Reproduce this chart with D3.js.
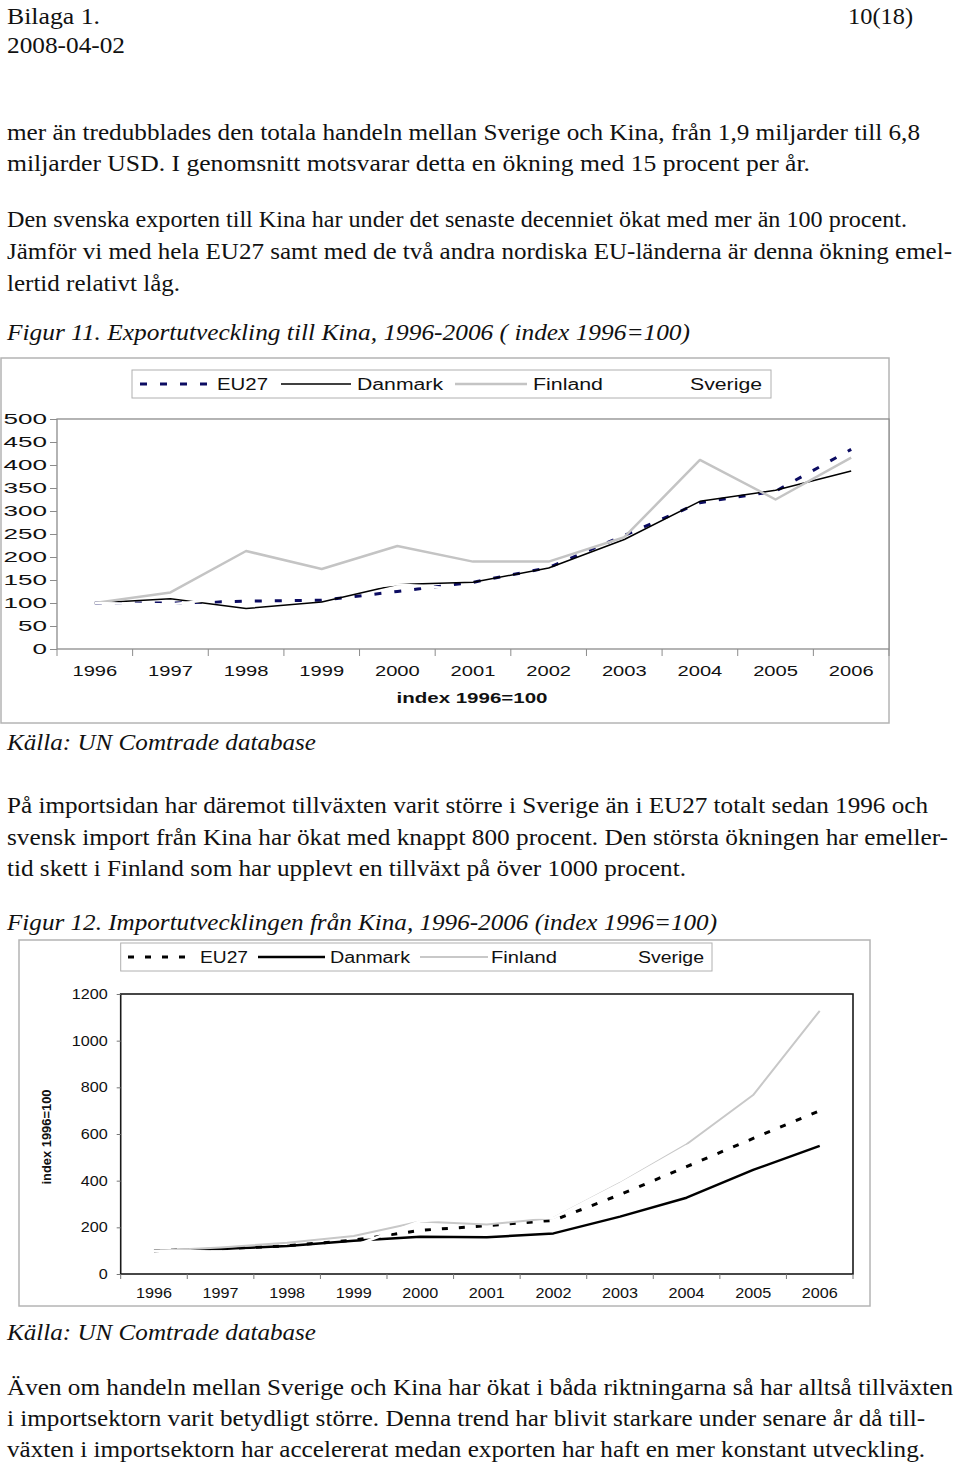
<!DOCTYPE html>
<html>
<head>
<meta charset="utf-8">
<title>Bilaga 1 - Export och import Kina</title>
<script src="https://cdn.jsdelivr.net/npm/d3@7"></script>
<style>
  body { margin: 0; background: #fff; }
</style>
</head>
<body>
<script>
// ---- data ----
var years = ["1996", "1997", "1998", "1999", "2000", "2001", "2002", "2003", "2004", "2005", "2006"];
var seriesNames = ["EU27", "Danmark", "Finland", "Sverige"];

// Figur 11, export (index 1996=100)
var exportEU27    = [100, 100, 104, 106, 125, 145, 177, 247, 318, 343, 434];
var exportDanmark = [100, 109,  88, 102, 140, 145, 176, 238, 321, 345, 387];
var exportFinland = [100, 123, 213, 174, 224, 190, 190, 243, 411, 325, 416];
var exportSverige = [100,  97, 115, 122, 141, 128, 150, 170, 190, 200, 215];
var exportTicks = [0, 50, 100, 150, 200, 250, 300, 350, 400, 450, 500];

// Figur 12, import (index 1996=100)
var importEU27    = [100, 107, 121, 145, 187, 207, 230, 340, 460, 581, 700];
var importDanmark = [100, 107, 120, 143, 160, 157, 174, 246, 327, 446, 549];
var importFinland = [100, 114, 134, 163, 225, 212, 240, 390, 556, 767, 1128];
var importSverige = [100,  96, 104, 120, 226, 250, 240, 386, 548, 650, 880];
var importTicks = [0, 200, 400, 600, 800, 1000, 1200];

var serif = "'Liberation Serif','Times New Roman',Times,serif";
var sans = "'Liberation Sans',Arial,Helvetica,sans-serif";

var svg = d3.select("body").append("svg")
    .attr("width", 960)
    .attr("height", 1464);
svg.append("rect").attr("width", 960).attr("height", 1464).attr("fill", "white");

// body text line, squeezed to the width it has on the page
function textLine(t, x, y, len, italic) {
    var el = svg.append("text")
        .text(t)
        .attr("x", x)
        .attr("y", y)
        .style("font-family", serif)
        .style("font-size", "24px")
        .attr("fill", "#111");
    if (italic) el.style("font-style", "italic");
    if (len) el.attr("textLength", len).attr("lengthAdjust", "spacingAndGlyphs");
    return el;
}

textLine("Bilaga 1.", 7, 24, 93);
textLine("10(18)", 848, 24, 65);
textLine("2008-04-02", 7, 53, 118);

textLine("mer än tredubblades den totala handeln mellan Sverige och Kina, från 1,9 miljarder till 6,8", 7, 140, 913);
textLine("miljarder USD. I genomsnitt motsvarar detta en ökning med 15 procent per år.", 7, 171, 803);
textLine("Den svenska exporten till Kina har under det senaste decenniet ökat med mer än 100 procent.", 7, 227, 900);
textLine("Jämför vi med hela EU27 samt med de två andra nordiska EU-länderna är denna ökning emel-", 7, 259, 945);
textLine("lertid relativt låg.", 7, 291, 173);
textLine("Figur 11.  Exportutveckling till Kina, 1996-2006 ( index 1996=100)", 7, 340, 683, true);
textLine("Källa: UN Comtrade database", 7, 750, 309, true);

textLine("På importsidan har däremot tillväxten varit större i Sverige än i EU27 totalt sedan 1996 och", 7, 813, 921);
textLine("svensk import från Kina har ökat med knappt 800 procent. Den största ökningen har emeller-", 7, 845, 941);
textLine("tid skett i Finland som har upplevt en tillväxt på över 1000 procent.", 7, 876, 679);
textLine("Figur 12. Importutvecklingen från Kina, 1996-2006 (index 1996=100)", 7, 930, 710, true);
textLine("Källa: UN Comtrade database", 7, 1340, 309, true);

textLine("Även om handeln mellan Sverige och Kina har ökat i båda riktningarna så har alltså tillväxten", 7, 1395, 946);
textLine("i importsektorn varit betydligt större. Denna trend har blivit starkare under senare år då till-", 7, 1426, 918);
textLine("växten i importsektorn har accelererat medan exporten har haft en mer konstant utveckling.", 7, 1457, 918);

// chart label: glyphs stretched to a width per character, like the scanned chart
function fit(sel, size, perChar) {
    sel.style("font-family", sans)
        .style("font-size", size + "px")
        .attr("fill", "#111")
        .attr("lengthAdjust", "spacingAndGlyphs")
        .attr("textLength", function() { return this.textContent.length * perChar; });
}

// ---- one chart ----
function drawChart(c) {
    var g = svg.append("g");

    // outer frame
    g.append("rect")
        .attr("x", c.frame[0]).attr("y", c.frame[1])
        .attr("width", c.frame[2] - c.frame[0]).attr("height", c.frame[3] - c.frame[1])
        .attr("fill", "none").attr("stroke", "#b4b4b4").attr("stroke-width", 1.5);

    var x = d3.scaleBand().domain(years).range([c.left, c.right]);
    var y = d3.scaleLinear().domain([0, c.ticks[c.ticks.length - 1]]).range([c.bottom, c.top]);

    // plot area border
    g.append("rect")
        .attr("x", c.left).attr("y", c.top)
        .attr("width", c.right - c.left).attr("height", c.bottom - c.top)
        .attr("fill", "white").attr("stroke", c.plotStroke).attr("stroke-width", c.plotStrokeW);

    // y axis
    var ya = g.append("g")
        .attr("transform", "translate(" + c.left + ",0)")
        .call(d3.axisLeft(y).tickValues(c.ticks).tickFormat(d3.format("d"))
            .tickSize(c.yTick).tickPadding(c.yPad));
    ya.select(".domain").remove();
    ya.selectAll("line").attr("stroke", c.tickColor);
    fit(ya.selectAll("text"), c.yFont, c.yChar);

    // x axis labels, ticks between the categories
    var xa = g.append("g")
        .attr("transform", "translate(0," + c.bottom + ")")
        .call(d3.axisBottom(x).tickSize(0).tickPadding(c.xPad));
    xa.select(".domain").remove();
    fit(xa.selectAll("text"), c.xFont, c.xChar);
    g.selectAll(null)
        .data(d3.range(years.length + 1))
        .enter().append("line")
        .attr("x1", function(i) { return x.range()[0] + i * x.step(); })
        .attr("x2", function(i) { return x.range()[0] + i * x.step(); })
        .attr("y1", c.bottom)
        .attr("y2", c.bottom + c.xTick)
        .attr("stroke", c.tickColor);

    // lines, in legend order (Sverige last, white, on top)
    var line = d3.line()
        .x(function(d, i) { return x(years[i]) + x.bandwidth() / 2; })
        .y(function(d) { return y(d); });
    c.series.forEach(function(s, k) {
        var p = g.append("path")
            .datum(s)
            .attr("d", line)
            .attr("fill", "none")
            .attr("stroke", c.styles[k].color)
            .attr("stroke-width", c.styles[k].width)
            .attr("stroke-linejoin", "round");
        if (c.styles[k].dash) p.attr("stroke-dasharray", c.styles[k].dash);
    });

    // legend
    var L = c.legend;
    g.append("rect")
        .attr("x", L.box[0]).attr("y", L.box[1])
        .attr("width", L.box[2] - L.box[0]).attr("height", L.box[3] - L.box[1])
        .attr("fill", "white").attr("stroke", "#b0b0b0").attr("stroke-width", 1);
    var ly = (L.box[1] + L.box[3]) / 2;
    seriesNames.forEach(function(name, k) {
        var st = c.styles[k];
        var sym = g.append("line")
            .attr("x1", L.sym[k][0]).attr("x2", L.sym[k][1])
            .attr("y1", ly).attr("y2", ly)
            .attr("stroke", st.color)
            .attr("stroke-width", st.width);
        if (st.dash) sym.attr("stroke-dasharray", st.dash);
        g.append("text")
            .text(name)
            .attr("x", L.text[k])
            .attr("y", ly + 5.5)
            .style("font-family", sans)
            .style("font-size", L.font + "px")
            .attr("textLength", L.width[k])
            .attr("lengthAdjust", "spacingAndGlyphs")
            .attr("fill", "#111");
    });
    return g;
}

// Figur 11
var c1 = drawChart({
    frame: [1, 358, 889, 723],
    left: 57, right: 889, top: 419, bottom: 649,
    ticks: exportTicks,
    plotStroke: "#8c8c8c", plotStrokeW: 1.3,
    tickColor: "#8c8c8c",
    yTick: 7, yPad: 3, yFont: 14, yChar: 14.5,
    xTick: 7, xPad: 16, xFont: 15, xChar: 11.2,
    series: [exportEU27, exportDanmark, exportFinland, exportSverige],
    styles: [
        {color: "#0c0c62", width: 3, dash: "7,13"},
        {color: "#000", width: 1.5},
        {color: "#c4c4c4", width: 2.5},
        {color: "#fff", width: 2.5}
    ],
    legend: {
        box: [132, 370, 771, 398],
        sym: [[140, 208], [281, 351], [455, 527], [612, 684]],
        text: [217, 357, 533, 690],
        width: [51, 86, 70, 72],
        font: 16
    }
});
c1.append("text")
    .text("index 1996=100")
    .attr("x", 472)
    .attr("y", 703)
    .attr("text-anchor", "middle")
    .style("font-family", sans)
    .style("font-weight", "bold")
    .style("font-size", "15px")
    .attr("textLength", 151)
    .attr("lengthAdjust", "spacingAndGlyphs")
    .attr("fill", "#111");

// Figur 12
var c2 = drawChart({
    frame: [19, 940, 870, 1306],
    left: 120.7, right: 853, top: 994, bottom: 1274,
    ticks: importTicks,
    plotStroke: "#1a1a1a", plotStrokeW: 1.6,
    tickColor: "#777",
    yTick: 4, yPad: 9, yFont: 14, yChar: 9,
    xTick: 5, xPad: 14, xFont: 14, xChar: 9,
    series: [importEU27, importDanmark, importFinland, importSverige],
    styles: [
        {color: "#000", width: 3, dash: "6,11"},
        {color: "#000", width: 2.5},
        {color: "#c8c8c8", width: 2},
        {color: "#fff", width: 2.5}
    ],
    legend: {
        box: [120.7, 943, 712, 971],
        sym: [[128, 193], [258, 325], [420, 488], [570, 632]],
        text: [200, 330, 491, 638],
        width: [48, 80, 66, 66],
        font: 16
    }
});
c2.append("text")
    .text("index 1996=100")
    .attr("transform", "translate(51,1137) rotate(-90)")
    .attr("text-anchor", "middle")
    .style("font-family", sans)
    .style("font-weight", "bold")
    .style("font-size", "12px")
    .attr("textLength", 95)
    .attr("lengthAdjust", "spacingAndGlyphs")
    .attr("fill", "#111");
</script>
</body>
</html>
